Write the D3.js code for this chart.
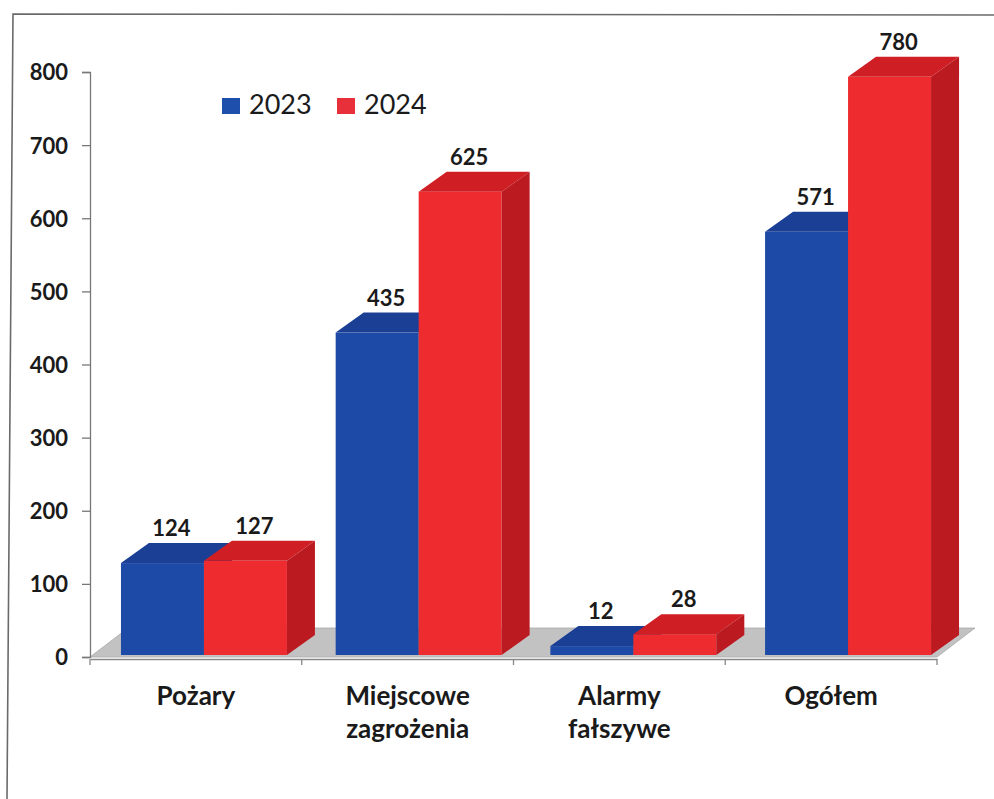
<!DOCTYPE html>
<html><head><meta charset="utf-8">
<script src="https://cdn.jsdelivr.net/npm/d3@7"></script>
<style>html,body{margin:0;padding:0;background:#fff;}svg{display:block;}</style>
</head><body>
<svg id="chart" width="994" height="799"></svg>
<script>
const categories = [["Pożary"], ["Miejscowe", "zagrożenia"], ["Alarmy", "fałszywe"], ["Ogółem"]];
const catKeys = ["Pożary", "Miejscowe zagrożenia", "Alarmy fałszywe", "Ogółem"];
const series = ["2023", "2024"];
const values2023 = [124, 435, 12, 571];
const values2024 = [127, 625, 28, 780];
const yTicks = [0, 100, 200, 300, 400, 500, 600, 700, 800];

const svg = d3.select("#chart");
const font = "Lato, 'Open Sans', sans-serif";
const colors = {
  "2023": {front: "#1d4aa6", top: "#1a3f94", side: "#163683", legend: "#1f4fac"},
  "2024": {front: "#ee2b2e", top: "#d01e25", side: "#bb1a21", legend: "#e8303a"}
};

// frame
svg.append("path").attr("d", "M7,799 L13,14 L994,15").attr("fill", "none")
  .attr("stroke", "#6a6a6a").attr("stroke-width", 1.6);

// axis scale (back wall)
const y = d3.scaleLinear().domain([0, 800]).range([657, 72]);
// bar front scale (front plane, slight perspective)
const yBar = d3.scaleLinear().domain([0, 800]).range([655, 62]);
const xAxis = d3.scaleBand().domain(catKeys).range([90, 937]);
const xBar = d3.scaleBand().domain(catKeys).range([96.6, 955.4]).paddingInner(0.227).paddingOuter(0.1135);
const xSub = d3.scaleBand().domain(series).range([0, xBar.bandwidth()]);
const dx = 28, dy = -20;
const fdx = 38, fdy = -29;

// floor
const f0 = y(0);
svg.append("polygon")
  .attr("points", [[90, f0], [937, f0], [937 + fdx, f0 + fdy], [90 + fdx, f0 + fdy]].map(p => p.join(",")).join(" "))
  .attr("fill", "#c2c2c2").attr("stroke", "#a8a8a8").attr("stroke-width", 0.8);

// y axis
const gy = svg.append("g").attr("transform", "translate(90,0)")
  .call(d3.axisLeft(y).tickValues(yTicks).tickSize(8).tickPadding(14));
gy.select(".domain").attr("stroke", "#777").attr("stroke-width", 1.3);
gy.selectAll(".tick line").attr("stroke", "#777").attr("stroke-width", 1.3);
gy.selectAll(".tick text").attr("font-family", font).attr("font-weight", "bold")
  .attr("font-size", 22).attr("fill", "#1a1a1a").attr("dy", "0.36em");

// x axis line with category ticks
const gx = svg.append("g").attr("transform", "translate(0,659)")
  .call(d3.axisBottom(xAxis).tickSize(0).tickFormat(""));
gx.select(".domain").attr("stroke", "#888").attr("stroke-width", 1.3);
gx.selectAll(".tick").remove();
const boundaries = catKeys.map(c => xAxis(c)).concat([xAxis.range()[1]]);
svg.selectAll(".cat-tick").data(boundaries).join("line")
  .attr("x1", d => d).attr("x2", d => d).attr("y1", 659).attr("y2", 665)
  .attr("stroke", "#888").attr("stroke-width", 1.3);

// bars
const data = catKeys.map((c, i) => ({cat: c, vals: [values2023[i], values2024[i]]}));
const barsG = svg.append("g");
data.forEach(d => {
  series.forEach((s, j) => {
    const v = d.vals[j];
    const x0 = xBar(d.cat) + xSub(s);
    const x1 = x0 + xSub.bandwidth();
    const yT = yBar(v), yB = yBar(0);
    const c = colors[s];
    const g = barsG.append("g");
    g.append("rect").attr("x", x0).attr("y", yT).attr("width", x1 - x0).attr("height", yB - yT).attr("fill", c.front);
    g.append("polygon").attr("points", [[x0, yT], [x1, yT], [x1 + dx, yT + dy], [x0 + dx, yT + dy]].map(p => p.join(",")).join(" "))
      .attr("fill", c.top);
    g.append("polygon").attr("points", [[x1, yT], [x1 + dx, yT + dy], [x1 + dx, yB + dy], [x1, yB]].map(p => p.join(",")).join(" "))
      .attr("fill", c.side);
  });
});

// value labels
data.forEach(d => {
  series.forEach((s, j) => {
    const v = d.vals[j];
    const x0 = xBar(d.cat) + xSub(s);
    svg.append("text").attr("x", x0 + xSub.bandwidth() / 2 + 9).attr("y", yBar(v) - 27)
      .attr("text-anchor", "middle").attr("font-family", font).attr("font-weight", "bold")
      .attr("font-size", 22).attr("fill", "#1a1a1a").text(v);
  });
});

// category labels
categories.forEach((lines, i) => {
  const cx = xAxis(catKeys[i]) + xAxis.bandwidth() / 2;
  lines.forEach((t, k) => {
    svg.append("text").attr("x", cx).attr("y", 705 + k * 33).attr("text-anchor", "middle")
      .attr("font-family", font).attr("font-weight", "bold").attr("font-size", 26)
      .attr("fill", "#1a1a1a").text(t);
  });
});

// legend
const legendX = [222, 337];
series.forEach((s, j) => {
  svg.append("rect").attr("x", legendX[j]).attr("y", 98).attr("width", 18).attr("height", 16).attr("fill", colors[s].legend);
  svg.append("text").attr("x", legendX[j] + 27).attr("y", 114).attr("font-family", font)
    .attr("font-size", 27).attr("fill", "#1a1a1a").text(s);
});
</script>
</body></html>
